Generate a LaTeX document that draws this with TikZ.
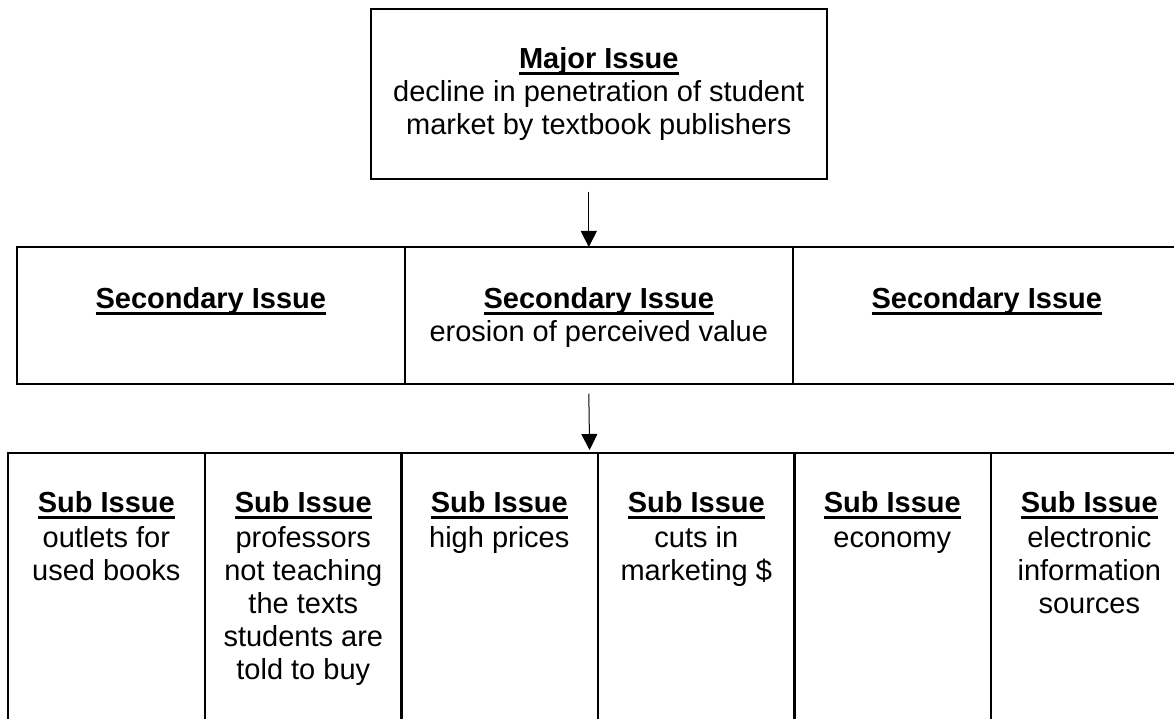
\documentclass[tikz,border=0pt]{standalone}
\usepackage{fontspec}
\setmainfont{Liberation Sans}
\usepackage{tikz}
\usetikzlibrary{arrows.meta,positioning}

% bold heading with a heavy underline (descenders ignored)
\newcommand{\hd}[1]{\vtop{\setbox0\hbox{\bfseries #1}\dp0=0pt\box0\kern4pt\hrule height 3pt}}

\tikzset{
  cell/.style={draw,line width=1.6pt,rectangle,inner sep=0pt,anchor=north west},
  txt/.style={align=center,inner sep=0pt,anchor=north,
    font=\fontsize{29pt}{33pt}\selectfont},
  arr/.style={line width=1pt,-{Triangle[width=16pt,length=16pt]}}
}

\begin{document}
\begin{tikzpicture}[x=1pt,y=-1pt]
    \useasboundingbox (0,0) rectangle (1174,719);
    \clip (0,0) rectangle (1174,719);
    \fill[white] (0,0) rectangle (1174,719);
    % major issue
    \node[cell,minimum width=456pt,minimum height=170pt] (major) at (370,8) {};
    \node[txt] (majortxt) at ([yshift=-39pt]major.north) {\hd{Major Issue}\\ decline in penetration of student\\ market by textbook publishers};
    % secondary row
    \node[cell,minimum width=388pt,minimum height=137pt] (secA) at (16,246) {};
    \node[cell,minimum width=388pt,minimum height=137pt] (secB) at (404,246) {};
    \node[cell,minimum width=388pt,minimum height=137pt] (secC) at (792,246) {};
    \node[txt] (secAtxt) at ([yshift=-41pt]secA.north) {\hd{Secondary Issue}};
    \node[txt] (secBtxt) at ([yshift=-41pt]secB.north) {\hd{Secondary Issue}\\ erosion of perceived value};
    \node[txt] (secCtxt) at ([yshift=-41pt]secC.north) {\hd{Secondary Issue}};
    % sub row
    \foreach \n/\x in {subA/7,subB/204,subC/400,subD/597,subE/793,subF/990}
      \node[cell,minimum width=197pt,minimum height=300pt] (\n) at (\x,452) {};
    \node[txt] (subAtxt) at ([yshift=-39pt]subA.north) {\hd{Sub Issue}\\[2pt] outlets for\\ used books};
    \node[txt] (subBtxt) at ([yshift=-39pt]subB.north) {\hd{Sub Issue}\\[2pt] professors\\ not teaching\\ the texts\\ students are\\ told to buy};
    \node[txt] (subCtxt) at ([yshift=-39pt]subC.north) {\hd{Sub Issue}\\[2pt] high prices};
    \node[txt] (subDtxt) at ([yshift=-39pt]subD.north) {\hd{Sub Issue}\\[2pt] cuts in\\ marketing \$};
    \node[txt] (subEtxt) at ([yshift=-39pt]subE.north) {\hd{Sub Issue}\\[2pt] economy};
    \node[txt] (subFtxt) at ([yshift=-39pt]subF.north) {\hd{Sub Issue}\\[2pt] electronic\\ information\\ sources};
    % arrows
    \draw[arr] ([xshift=-10pt,yshift=-12pt]major.south) -- ([xshift=-10pt,yshift=-1pt]secB.north);
    \draw[arr] ([xshift=-10pt,yshift=-9pt]secB.south) -- ([xshift=-9pt,yshift=2pt]subC.north east);
\end{tikzpicture}
\end{document}
